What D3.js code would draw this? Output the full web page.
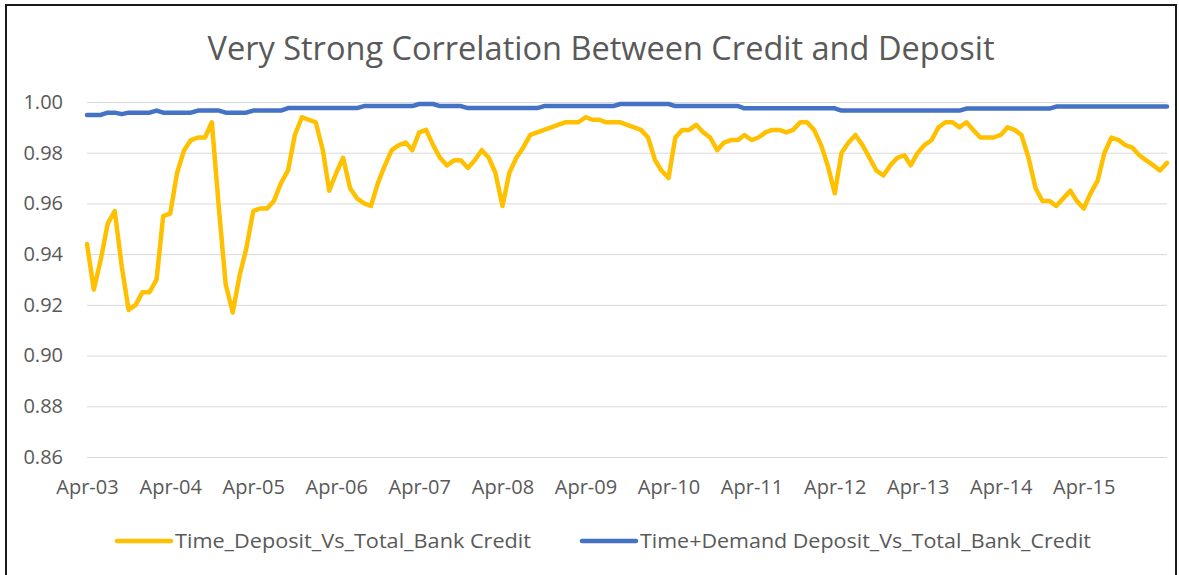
<!DOCTYPE html>
<html>
<head>
<meta charset="utf-8">
<script src="https://cdn.jsdelivr.net/npm/d3@7"></script>
<style>
  body { margin: 0; background: #fff; }
  text { font-family: "Open Sans", sans-serif; fill: #595959; }
</style>
</head>
<body>
<div id="container"></div>
<script>
// monthly points, first one is Apr-03
var startMonth = new Date(2003, 3, 1);

var timeDeposit = [
  0.944, 0.926, 0.938, 0.952, 0.957, 0.935, 0.918, 0.920, 0.925, 0.925, 0.930, 0.955,
  0.956, 0.972, 0.981, 0.985, 0.986, 0.986, 0.992, 0.958, 0.928, 0.917, 0.932, 0.942,
  0.957, 0.958, 0.958, 0.961, 0.968, 0.973, 0.987, 0.994, 0.993, 0.992, 0.981, 0.965,
  0.972, 0.978, 0.966, 0.962, 0.960, 0.959, 0.968, 0.975, 0.981, 0.983, 0.984, 0.981,
  0.988, 0.989, 0.983, 0.978, 0.975, 0.977, 0.977, 0.974, 0.977, 0.981, 0.978, 0.972,
  0.959, 0.972, 0.978, 0.982, 0.987, 0.988, 0.989, 0.990, 0.991, 0.992, 0.992, 0.992,
  0.994, 0.993, 0.993, 0.992, 0.992, 0.992, 0.991, 0.990, 0.989, 0.986, 0.977, 0.973,
  0.970, 0.986, 0.989, 0.989, 0.991, 0.988, 0.986, 0.981, 0.984, 0.985, 0.985, 0.987,
  0.985, 0.986, 0.988, 0.989, 0.989, 0.988, 0.989, 0.992, 0.992, 0.989, 0.983, 0.975,
  0.964, 0.980, 0.984, 0.987, 0.983, 0.978, 0.973, 0.971, 0.975, 0.978, 0.979, 0.975,
  0.980, 0.983, 0.985, 0.990, 0.992, 0.992, 0.990, 0.992, 0.989, 0.986, 0.986, 0.986,
  0.987, 0.990, 0.989, 0.987, 0.978, 0.966, 0.961, 0.961, 0.959, 0.962, 0.965, 0.961,
  0.958, 0.964, 0.969, 0.980, 0.986, 0.985, 0.983, 0.982, 0.979, 0.977, 0.975, 0.973,
  0.976
];

var timeDemandDeposit = [
  0.9949, 0.9949, 0.9949, 0.9958, 0.9958, 0.9952, 0.9958, 0.9958, 0.9958, 0.9958, 0.9966, 0.9958,
  0.9958, 0.9958, 0.9958, 0.9958, 0.9966, 0.9966, 0.9966, 0.9966, 0.9958, 0.9958, 0.9958, 0.9958,
  0.9966, 0.9966, 0.9966, 0.9966, 0.9966, 0.9976, 0.9976, 0.9976, 0.9976, 0.9976, 0.9976, 0.9976,
  0.9976, 0.9976, 0.9976, 0.9976, 0.9984, 0.9984, 0.9984, 0.9984, 0.9984, 0.9984, 0.9984, 0.9984,
  0.9992, 0.9992, 0.9992, 0.9984, 0.9984, 0.9984, 0.9984, 0.9976, 0.9976, 0.9976, 0.9976, 0.9976,
  0.9976, 0.9976, 0.9976, 0.9976, 0.9976, 0.9976, 0.9984, 0.9984, 0.9984, 0.9984, 0.9984, 0.9984,
  0.9984, 0.9984, 0.9984, 0.9984, 0.9984, 0.9992, 0.9992, 0.9992, 0.9992, 0.9992, 0.9992, 0.9992,
  0.9992, 0.9984, 0.9984, 0.9984, 0.9984, 0.9984, 0.9984, 0.9984, 0.9984, 0.9984, 0.9984, 0.9975,
  0.9975, 0.9975, 0.9975, 0.9975, 0.9975, 0.9975, 0.9975, 0.9975, 0.9975, 0.9975, 0.9975, 0.9975,
  0.9975, 0.9966, 0.9966, 0.9966, 0.9966, 0.9966, 0.9966, 0.9966, 0.9966, 0.9966, 0.9966, 0.9966,
  0.9966, 0.9966, 0.9966, 0.9966, 0.9966, 0.9966, 0.9966, 0.9974, 0.9974, 0.9974, 0.9974, 0.9974,
  0.9974, 0.9974, 0.9974, 0.9974, 0.9974, 0.9974, 0.9974, 0.9974, 0.9982, 0.9982, 0.9982, 0.9982,
  0.9982, 0.9982, 0.9982, 0.9982, 0.9982, 0.9982, 0.9982, 0.9982, 0.9982, 0.9982, 0.9982, 0.9982,
  0.9982
];

var yTicks = [0.86, 0.88, 0.90, 0.92, 0.94, 0.96, 0.98, 1.00];
var xTickLabels = ["Apr-03", "Apr-04", "Apr-05", "Apr-06", "Apr-07", "Apr-08", "Apr-09",
                   "Apr-10", "Apr-11", "Apr-12", "Apr-13", "Apr-14", "Apr-15"];
var seriesNames = ["Time_Deposit_Vs_Total_Bank Credit", "Time+Demand Deposit_Vs_Total_Bank_Credit"];
var seriesColors = ["#FFC000", "#4472C4"];

var width = 1179, height = 575;
// plot box (note: "top" is taken by window.top, so use other names)
var plotLeft = 87, plotRight = 1167, plotTop = 102, plotBottom = 457;

var svg = d3.select("#container").append("svg")
  .attr("width", width)
  .attr("height", height);

// outer frame
svg.append("rect")
  .attr("x", 6).attr("y", 5)
  .attr("width", 1170).attr("height", 600)
  .attr("fill", "#fff")
  .attr("stroke", "#1a1a1a")
  .attr("stroke-width", 2);

function monthDate(i) { return d3.timeMonth.offset(startMonth, i); }

var x = d3.scaleTime()
  .domain([monthDate(0), monthDate(timeDeposit.length - 1)])
  .range([plotLeft, plotRight]);

var y = d3.scaleLinear()
  .domain([0.86, 1.00])
  .range([plotBottom, plotTop]);

// title
svg.append("text")
  .attr("x", 601).attr("y", 60)
  .attr("text-anchor", "middle")
  .attr("textLength", 787)
  .attr("lengthAdjust", "spacingAndGlyphs")
  .style("font-size", "32px")
  .text("Very Strong Correlation Between Credit and Deposit");

// gridlines + y labels
var yAxis = d3.axisLeft(y).tickValues(yTicks).tickFormat(d3.format(".2f"))
  .tickSize(-(plotRight - plotLeft)).tickPadding(24);
var gy = svg.append("g").attr("transform", "translate(" + plotLeft + ",0)").call(yAxis);
gy.select(".domain").remove();
gy.selectAll("line").attr("stroke", "#d9d9d9");
gy.selectAll("text").style("font-size", "20px").attr("fill", "#595959").style("font-family", "Open Sans");

// x labels, one per April
var xAxis = d3.axisBottom(x)
  .tickValues(xTickLabels.map(function (d, i) { return monthDate(i * 12); }))
  .tickFormat(function (d, i) { return xTickLabels[i]; })
  .tickSize(0).tickPadding(23);
var gx = svg.append("g").attr("transform", "translate(0," + plotBottom + ")").call(xAxis);
gx.select(".domain").remove();
gx.selectAll("text").style("font-size", "20px").attr("fill", "#595959").style("font-family", "Open Sans");

var line = d3.line()
  .x(function (d, i) { return x(monthDate(i)); })
  .y(function (d) { return y(d); });

[timeDeposit, timeDemandDeposit].forEach(function (s, k) {
  svg.append("path")
    .datum(s)
    .attr("fill", "none")
    .attr("stroke", seriesColors[k])
    .attr("stroke-width", 4.5)
    .attr("stroke-linejoin", "round")
    .attr("stroke-linecap", "round")
    .attr("d", line);
});

// legend
var legendX = [117, 582], legendW = [356, 451];
seriesNames.forEach(function (name, k) {
  svg.append("line")
    .attr("x1", legendX[k]).attr("x2", legendX[k] + 54)
    .attr("y1", 541).attr("y2", 541)
    .attr("stroke", seriesColors[k])
    .attr("stroke-width", 4.5)
    .attr("stroke-linecap", "round");
  svg.append("text")
    .attr("x", legendX[k] + 58).attr("y", 548)
    .attr("textLength", legendW[k])
    .attr("lengthAdjust", "spacingAndGlyphs")
    .style("font-size", "20px")
    .text(name);
});
</script>
</body>
</html>
